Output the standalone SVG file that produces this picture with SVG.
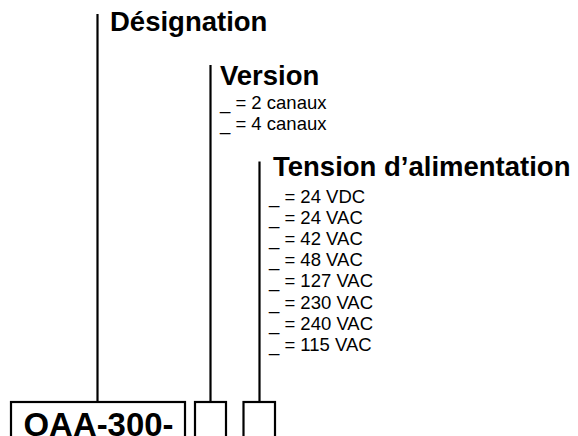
<svg xmlns="http://www.w3.org/2000/svg" width="578" height="436" viewBox="0 0 578 436">
<style>
.h{font-family:"Liberation Sans",Arial,sans-serif;font-weight:bold;font-size:27.5px;fill:#000}
.t{font-family:"Liberation Sans",Arial,sans-serif;font-size:18.5px;fill:#000}
.big{font-family:"Liberation Sans",Arial,sans-serif;font-weight:bold;font-size:33px;fill:#000}
.ln{stroke:#000;stroke-width:2.2;fill:none}
.bx{stroke:#000;stroke-width:2.2;fill:#fff}
</style>
<rect width="578" height="436" fill="#fff"/>
<g id="connectors">
<line class="ln" x1="97.5" y1="14" x2="97.5" y2="402"/>
<line class="ln" x1="210.5" y1="65" x2="210.5" y2="402"/>
<line class="ln" x1="259.5" y1="161.5" x2="259.5" y2="402"/>
</g>
<g id="designation">
<text class="h" x="110" y="31">Désignation</text>
</g>
<g id="version">
<text class="h" x="220" y="84.5">Version</text>
<text class="t" x="220" y="108.5">_ = 2 canaux</text>
<text class="t" x="220" y="129.5">_ = 4 canaux</text>
</g>
<g id="tension">
<text class="h" x="273" y="176">Tension d’alimentation</text>
<text class="t" x="269" y="202.5">_ = 24 VDC</text>
<text class="t" x="269" y="223.7">_ = 24 VAC</text>
<text class="t" x="269" y="244.9">_ = 42 VAC</text>
<text class="t" x="269" y="266.1">_ = 48 VAC</text>
<text class="t" x="269" y="287.3">_ = 127 VAC</text>
<text class="t" x="269" y="308.5">_ = 230 VAC</text>
<text class="t" x="269" y="329.7">_ = 240 VAC</text>
<text class="t" x="269" y="350.9">_ = 115 VAC</text>
</g>
<g id="box-oaa">
<rect class="bx" x="11" y="402" width="174" height="50"/>
<text class="big" x="23.5" y="436" textLength="150" lengthAdjust="spacingAndGlyphs">OAA-300-</text>
</g>
<g id="box-version">
<rect class="bx" x="195" y="402" width="31" height="50"/>
</g>
<g id="box-tension">
<rect class="bx" x="243.5" y="402" width="31.5" height="50"/>
</g>
</svg>
